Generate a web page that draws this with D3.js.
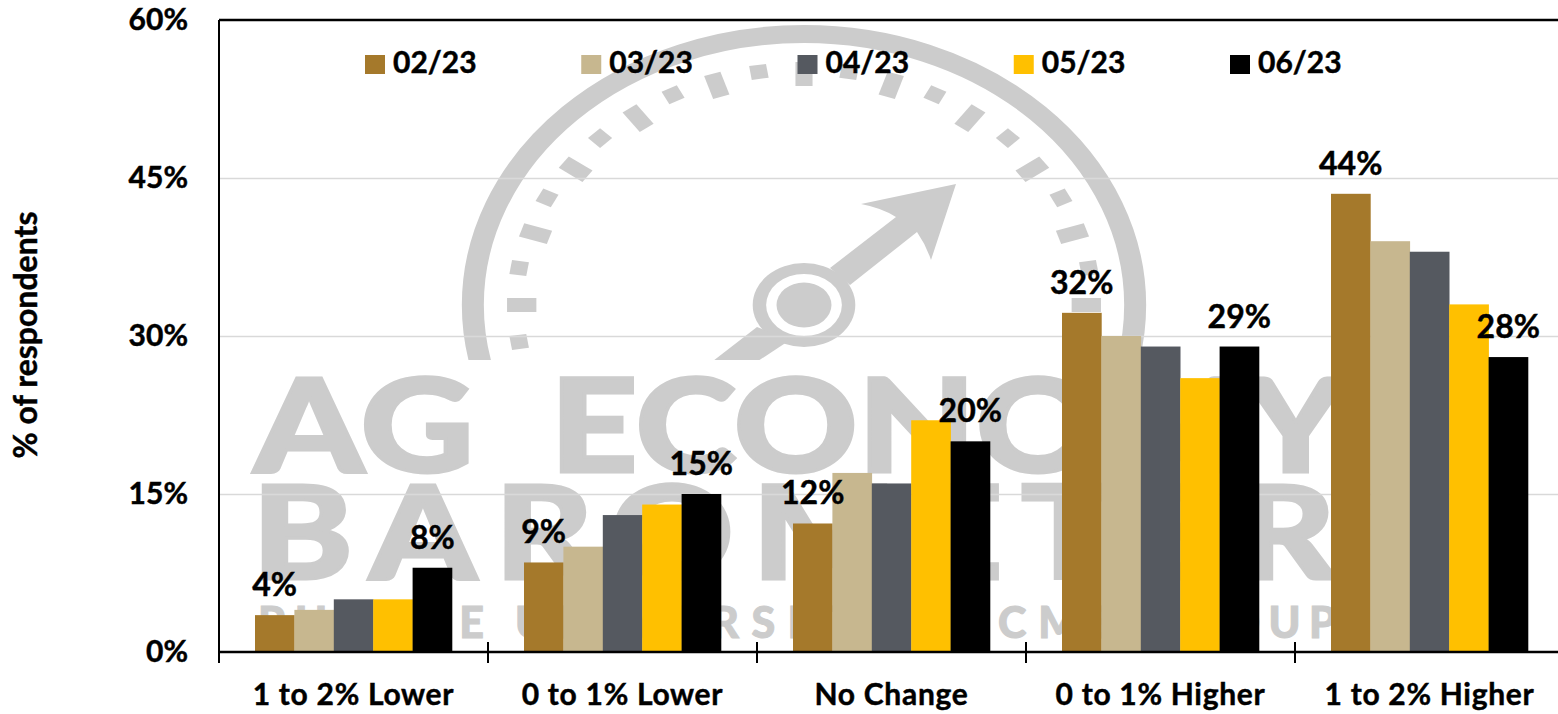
<!DOCTYPE html>
<html><head><meta charset="utf-8">
<script src="https://cdn.jsdelivr.net/npm/d3@7"></script>
<style>html,body{margin:0;padding:0;background:#fff}svg{display:block}text{font-family:Lato,"Open Sans",sans-serif;font-weight:700;fill:#000}
.lab{stroke:#000;stroke-width:.45px}</style>
</head><body><svg id="c" width="1558" height="714"></svg>
<script>
const categories=["1 to 2% Lower","0 to 1% Lower","No Change","0 to 1% Higher","1 to 2% Higher"];
const seriesNames=["02/23","03/23","04/23","05/23","06/23"];
const s0223=[3.5,8.5,12.2,32.2,43.5];
const s0323=[4,10,17,30,39];
const s0423=[5,13,16,29,38];
const s0523=[5,14,22,26,33];
const s0623=[8,15,20,29,28];
const seriesValues=[s0223,s0323,s0423,s0523,s0623];
const colors=["#a5792b","#c7b78f","#555960","#ffc000","#000000"];
const yTicks=[0,15,30,45,60];
const labelledSeries=[0,4];
const yTitle="% of respondents";

const svg=d3.select("#c");
const L=219,R=1564,T=20,B=652;
const x=d3.scaleBand().domain(categories).range([L,R]);
const x1=d3.scaleBand().domain(d3.range(5)).range([36,233]);
const y=d3.scaleLinear().domain([0,60]).range([B,T]);
const W="#cccccc";

// watermark
const mark=svg.append("g").attr("class","watermark");
svg.append("clipPath").attr("id","gc").append("rect").attr("x",0).attr("y",0).attr("width",1558).attr("height",360);
const g=mark.append("g").attr("clip-path","url(#gc)");
const cx=804,cy=305,sx=1.222;
const gauge=g.append("g").attr("transform",`translate(${cx},${cy}) scale(${sx},1)`);
gauge.append("circle").attr("r",271).attr("fill","none").attr("stroke",W).attr("stroke-width",18);
const steps=d3.range(-1,22);
gauge.selectAll("path.t").data(steps).join("path").attr("fill",W).attr("d",i=>{
  const long=i%2===0,a=Math.PI-i*9*Math.PI/180;
  const r0=long?219:229,r1=243,h=7;
  const c=Math.cos(a),s=-Math.sin(a);
  const p=(r,o)=>[r*c-o*s,r*s+o*c];
  return "M"+[p(r0,-h),p(r1,-h),p(r1,h),p(r0,h)].join("L")+"Z";
});
const hub=g.append("g").attr("transform",`translate(${cx},${cy}) scale(${sx},1)`);
g.append("path").attr("fill",W).attr("d","M956,184L861,204Q882,208 896,217L830,268L850,285L917,232Q926,245 931,260Z");
g.append("path").attr("fill",W).attr("d","M757,327L713,361L758,361L790,340Z");
hub.append("circle").attr("r",42).attr("fill",W);
hub.append("circle").attr("r",31).attr("fill","#fff");
hub.append("circle").attr("r",22.5).attr("fill",W);
const wm=(t,xx,yy,size,len,adj,stretch,sw)=>mark.append("text").text(t)
  .attr("transform",`translate(${xx},${yy}) scale(${stretch},1)`)
  .attr("textLength",len/stretch).attr("lengthAdjust",adj)
  .style("font-size",size+"px").style("font-weight",900).style("fill",W)
  .style("stroke",W).style("stroke-width",sw+"px");
wm("AG",254,472,129,220,"spacingAndGlyphs",1,3);
wm("ECONOMY",550,472,129,796,"spacingAndGlyphs",1,3);
wm("BAROMETER",252,579,129,1084,"spacing",1.18,3);
wm("PURDUE",258,638,43,226,"spacing",1,1);
wm("UNIVERSITY",515,638,43,365,"spacing",1,1);
wm("/",915,638,43,18,"spacing",1,1);
wm("CME",998,638,43,118,"spacing",1,1);
wm("GROUP",1150,638,43,186,"spacing",1,1);

// grid
const grid=svg.append("g").attr("transform",`translate(${L},0)`)
  .call(d3.axisLeft(y).tickValues(yTicks.filter(v=>v>0&&v<60)).tickSize(-(R-L)).tickFormat(""));
grid.select(".domain").remove();
grid.selectAll("line").attr("stroke","#d9d9d9").attr("stroke-width",1.5);

// bars
const groups=svg.selectAll("g.cat").data(categories).join("g").attr("class","cat")
  .attr("transform",d=>`translate(${x(d)},0)`);
groups.selectAll("rect").data((d,ci)=>seriesValues.map((v,si)=>({si,v:v[ci]}))).join("rect")
  .attr("x",d=>x1(d.si)).attr("width",x1.bandwidth()+.3)
  .attr("y",d=>y(d.v)).attr("height",d=>y(0)-y(d.v)).attr("fill",d=>colors[d.si]);
groups.selectAll("text").data((d,ci)=>labelledSeries.map(si=>({si,v:seriesValues[si][ci]}))).join("text")
  .attr("class","lab").attr("x",d=>x1(d.si)+x1.bandwidth()/2).attr("y",d=>y(d.v)-19).attr("text-anchor","middle")
  .style("font-size","32px").text(d=>Math.round(d.v)+"%");

// frame and axes
const frame=svg.append("g").attr("stroke","#000");
frame.append("line").attr("x1",L).attr("x2",1558).attr("y1",T).attr("y2",T).attr("stroke-width",2.5);
frame.append("line").attr("x1",L).attr("x2",L).attr("y1",T).attr("y2",663).attr("stroke-width",2);
frame.append("line").attr("x1",L).attr("x2",1558).attr("y1",B).attr("y2",B).attr("stroke-width",2.5);
frame.selectAll("line.tick").data(categories.slice(1)).join("line").attr("class","tick")
  .attr("x1",d=>x(d)).attr("x2",d=>x(d)).attr("y1",642).attr("y2",663).attr("stroke-width",2);

const ya=svg.append("g").attr("transform",`translate(188,0)`)
  .call(d3.axisLeft(y).tickValues(yTicks).tickSize(0).tickPadding(0).tickFormat(d=>d+"%"));
ya.select(".domain").remove();
ya.selectAll("text").attr("class","lab").style("font-size","30px").attr("dy","0.3em");
const xa=svg.append("g").attr("transform",`translate(0,${B})`)
  .call(d3.axisBottom(x).tickSize(0).tickPadding(0));
xa.select(".domain").remove();
xa.selectAll("text").attr("class","lab").attr("dy",0).attr("y",53).style("font-size","30px").style("letter-spacing","0.7px");
svg.append("text").attr("class","lab").text(yTitle).attr("transform","translate(37,335) rotate(-90)").attr("text-anchor","middle").style("font-size","32px");

// legend
const lx=d3.scalePoint().domain(seriesNames).range([365,1230]);
const leg=svg.selectAll("g.leg").data(seriesNames).join("g").attr("class","leg").attr("transform",d=>`translate(${lx(d)},0)`);
leg.append("rect").attr("y",55).attr("width",20).attr("height",19).attr("fill",(d,i)=>colors[i]);
leg.append("text").attr("class","lab").attr("x",28).attr("y",73).style("font-size","30px").text(d=>d);
</script></body></html>
